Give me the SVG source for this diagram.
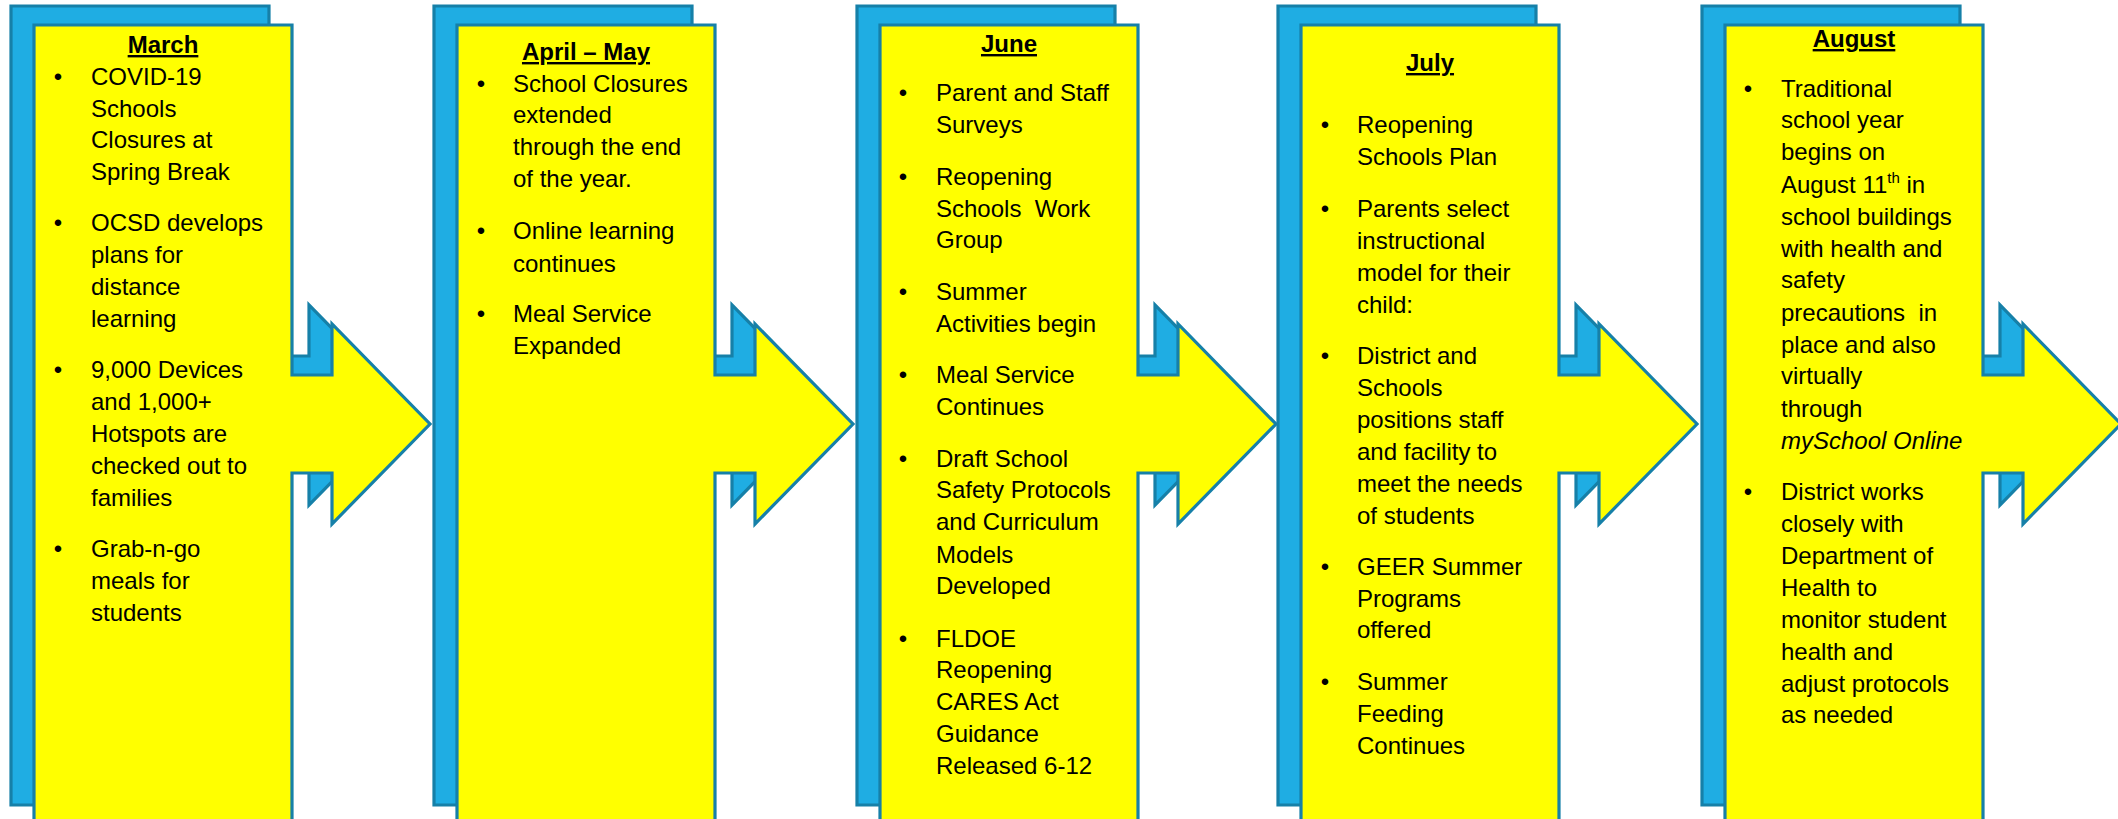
<svg xmlns="http://www.w3.org/2000/svg" width="2118" height="819" viewBox="0 0 2118 819">
<style>
.back{fill:#1fade3;stroke:#1680a8;stroke-width:3.2;stroke-linejoin:miter}
.front{fill:#ffff00;stroke:#1680a8;stroke-width:3.2;stroke-linejoin:miter}
.t{font-family:"Liberation Sans",Arial,sans-serif;font-size:24px;fill:#000;white-space:pre}
.h{font-family:"Liberation Sans",Arial,sans-serif;font-size:24px;font-weight:bold;fill:#000;text-anchor:middle;text-decoration:underline}
.b{font-family:"Liberation Sans",Arial,sans-serif;font-size:24px;fill:#000;text-anchor:middle}
</style>
<defs>
<path id="backShape" d="M -23,6 H 235 V 356 H 275 V 305 L 373,405 L 275,505 V 454 H 235 V 805 H -23 Z"/>
<path id="frontShape" d="M 0,25 H 258 V 375 H 298 V 324 L 396,424 L 298,524 V 473 H 258 V 840 H 0 Z"/>
</defs>
<rect width="2118" height="819" fill="#ffffff"/>
<g id="connectors"></g>

<g id="march">
<use href="#backShape" class="back" x="34"/>
<use href="#frontShape" class="front" x="34"/>
<text class="h" x="163" y="53">March</text>
<text class="b" x="58" y="85">•</text>
<text class="t"><tspan x="91" y="85">COVID-19</tspan><tspan x="91" y="117">Schools</tspan><tspan x="91" y="148">Closures at</tspan><tspan x="91" y="180">Spring Break</tspan></text>
<text class="b" x="58" y="231">•</text>
<text class="t"><tspan x="91" y="231">OCSD develops</tspan><tspan x="91" y="263">plans for</tspan><tspan x="91" y="295">distance</tspan><tspan x="91" y="327">learning</tspan></text>
<text class="b" x="58" y="378">•</text>
<text class="t"><tspan x="91" y="378">9,000 Devices</tspan><tspan x="91" y="410">and 1,000+</tspan><tspan x="91" y="442">Hotspots are</tspan><tspan x="91" y="474">checked out to</tspan><tspan x="91" y="506">families</tspan></text>
<text class="b" x="58" y="557">•</text>
<text class="t"><tspan x="91" y="557">Grab-n-go</tspan><tspan x="91" y="589">meals for</tspan><tspan x="91" y="621">students</tspan></text>
</g>

<g id="april-may">
<use href="#backShape" class="back" x="457"/>
<use href="#frontShape" class="front" x="457"/>
<text class="h" x="586" y="60">April – May</text>
<text class="b" x="481" y="92">•</text>
<text class="t"><tspan x="513" y="92">School Closures</tspan><tspan x="513" y="123">extended</tspan><tspan x="513" y="155">through the end</tspan><tspan x="513" y="187">of the year.</tspan></text>
<text class="b" x="481" y="239">•</text>
<text class="t"><tspan x="513" y="239">Online learning</tspan><tspan x="513" y="272">continues</tspan></text>
<text class="b" x="481" y="322">•</text>
<text class="t"><tspan x="513" y="322">Meal Service</tspan><tspan x="513" y="354">Expanded</tspan></text>
</g>

<g id="june">
<use href="#backShape" class="back" x="880"/>
<use href="#frontShape" class="front" x="880"/>
<text class="h" x="1009" y="52">June</text>
<text class="b" x="903" y="101">•</text>
<text class="t"><tspan x="936" y="101">Parent and Staff</tspan><tspan x="936" y="133">Surveys</tspan></text>
<text class="b" x="903" y="185">•</text>
<text class="t"><tspan x="936" y="185">Reopening</tspan><tspan x="936" y="217">Schools  Work</tspan><tspan x="936" y="248">Group</tspan></text>
<text class="b" x="903" y="300">•</text>
<text class="t"><tspan x="936" y="300">Summer</tspan><tspan x="936" y="332">Activities begin</tspan></text>
<text class="b" x="903" y="383">•</text>
<text class="t"><tspan x="936" y="383">Meal Service</tspan><tspan x="936" y="415">Continues</tspan></text>
<text class="b" x="903" y="467">•</text>
<text class="t"><tspan x="936" y="467">Draft School</tspan><tspan x="936" y="498">Safety Protocols</tspan><tspan x="936" y="530">and Curriculum</tspan><tspan x="936" y="563">Models</tspan><tspan x="936" y="594">Developed</tspan></text>
<text class="b" x="903" y="647">•</text>
<text class="t"><tspan x="936" y="647">FLDOE</tspan><tspan x="936" y="678">Reopening</tspan><tspan x="936" y="710">CARES Act</tspan><tspan x="936" y="742">Guidance</tspan><tspan x="936" y="774">Released 6-12</tspan></text>
</g>

<g id="july">
<use href="#backShape" class="back" x="1301"/>
<use href="#frontShape" class="front" x="1301"/>
<text class="h" x="1430" y="71">July</text>
<text class="b" x="1325" y="133">•</text>
<text class="t"><tspan x="1357" y="133">Reopening</tspan><tspan x="1357" y="165">Schools Plan</tspan></text>
<text class="b" x="1325" y="217">•</text>
<text class="t"><tspan x="1357" y="217">Parents select</tspan><tspan x="1357" y="249">instructional</tspan><tspan x="1357" y="281">model for their</tspan><tspan x="1357" y="313">child:</tspan></text>
<text class="b" x="1325" y="364">•</text>
<text class="t"><tspan x="1357" y="364">District and</tspan><tspan x="1357" y="396">Schools</tspan><tspan x="1357" y="428">positions staff</tspan><tspan x="1357" y="460">and facility to</tspan><tspan x="1357" y="492">meet the needs</tspan><tspan x="1357" y="524">of students</tspan></text>
<text class="b" x="1325" y="575">•</text>
<text class="t"><tspan x="1357" y="575">GEER Summer</tspan><tspan x="1357" y="607">Programs</tspan><tspan x="1357" y="638">offered</tspan></text>
<text class="b" x="1325" y="690">•</text>
<text class="t"><tspan x="1357" y="690">Summer</tspan><tspan x="1357" y="722">Feeding</tspan><tspan x="1357" y="754">Continues</tspan></text>
</g>

<g id="august">
<use href="#backShape" class="back" x="1725"/>
<use href="#frontShape" class="front" x="1725"/>
<text class="h" x="1854" y="47">August</text>
<text class="b" x="1748" y="97">•</text>
<text class="t"><tspan x="1781" y="97">Traditional</tspan><tspan x="1781" y="128">school year</tspan><tspan x="1781" y="160">begins on</tspan><tspan x="1781" y="193">August 11</tspan><tspan font-size="15" dy="-10">th</tspan><tspan dy="10"> in</tspan><tspan x="1781" y="225">school buildings</tspan><tspan x="1781" y="257">with health and</tspan><tspan x="1781" y="288">safety</tspan><tspan x="1781" y="321">precautions  in</tspan><tspan x="1781" y="353">place and also</tspan><tspan x="1781" y="384">virtually</tspan><tspan x="1781" y="417">through</tspan><tspan x="1781" y="449" font-style="italic">mySchool Online</tspan></text>
<text class="b" x="1748" y="500">•</text>
<text class="t"><tspan x="1781" y="500">District works</tspan><tspan x="1781" y="532">closely with</tspan><tspan x="1781" y="564">Department of</tspan><tspan x="1781" y="596">Health to</tspan><tspan x="1781" y="628">monitor student</tspan><tspan x="1781" y="660">health and</tspan><tspan x="1781" y="692">adjust protocols</tspan><tspan x="1781" y="723">as needed</tspan></text>
</g>
</svg>
